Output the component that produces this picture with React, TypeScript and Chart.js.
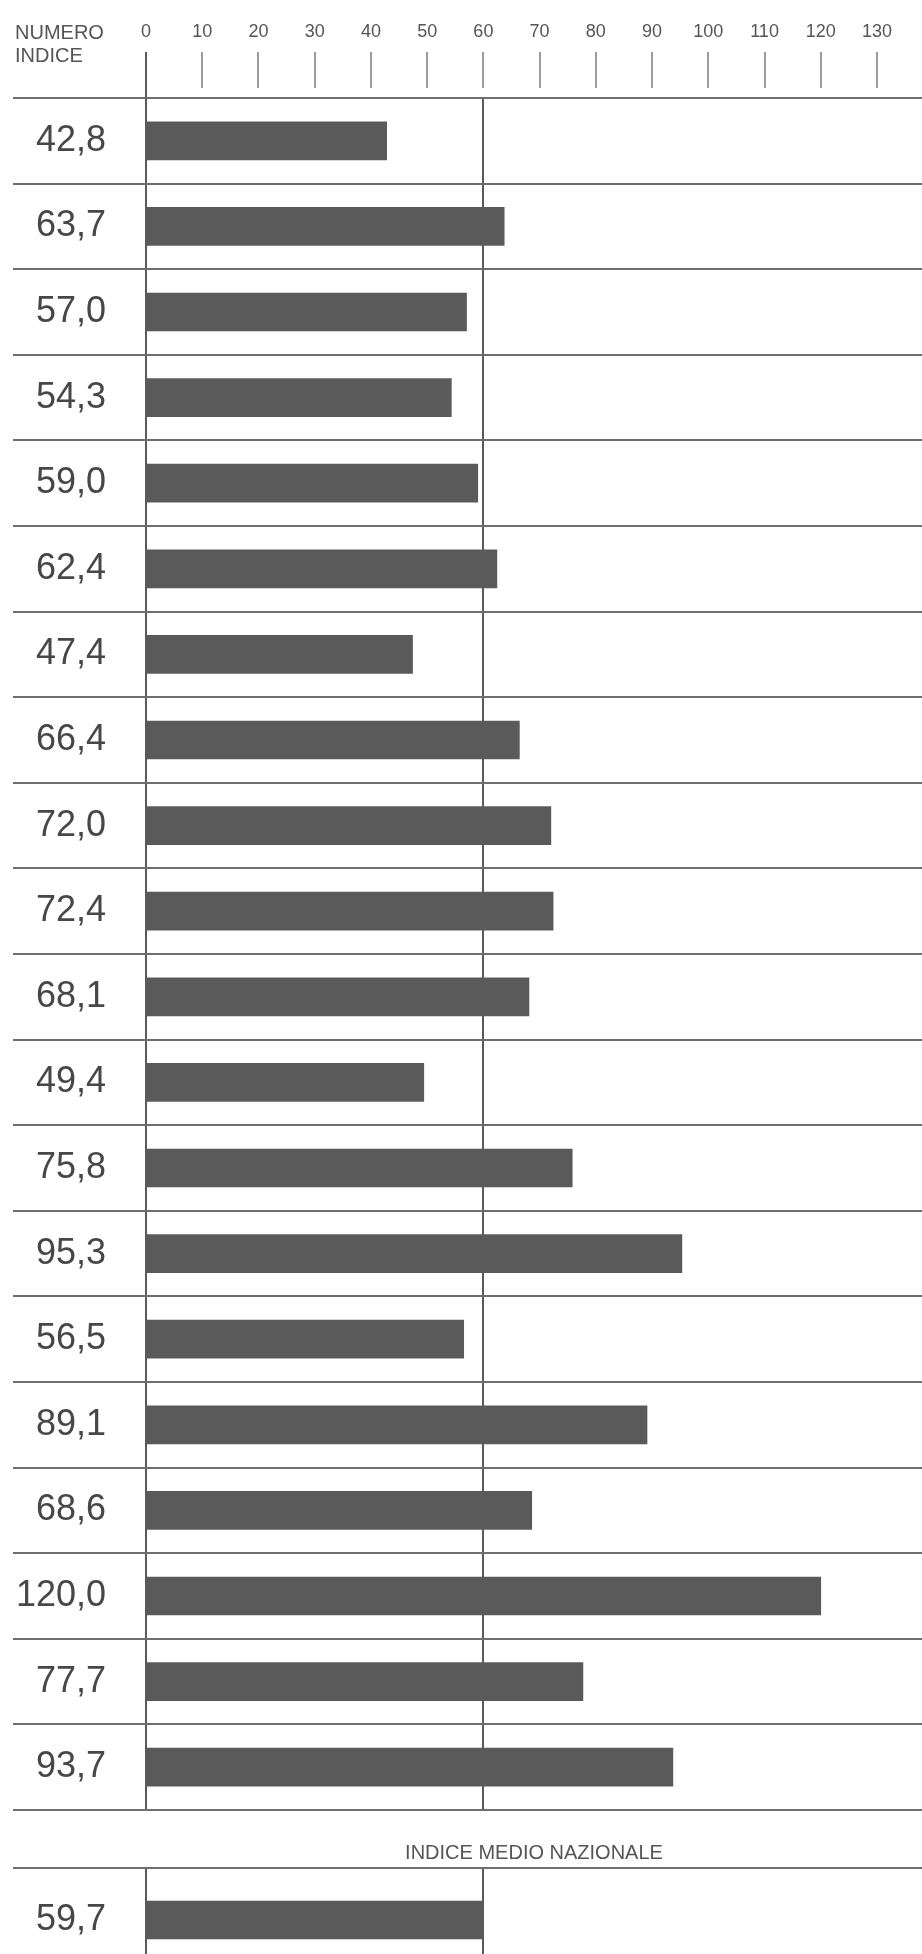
import React, { useEffect, useRef } from "react";
import { Chart, registerables } from "chart.js";

Chart.register(...registerables);

// ---- data ----
const indexValues = [
  42.8, 63.7, 57.0, 54.3, 59.0, 62.4, 47.4, 66.4, 72.0, 72.4,
  68.1, 49.4, 75.8, 95.3, 56.5, 89.1, 68.6, 120.0, 77.7, 93.7,
];
const nationalValues = [59.7];
const axisTicks = [0, 10, 20, 30, 40, 50, 60, 70, 80, 90, 100, 110, 120, 130];
const referenceLines = [0, 60];
const headerLines = ["NUMERO", "INDICE"];
const nationalTitle = "INDICE MEDIO NAZIONALE";

// ---- styles ----
const FONT = "'Liberation Sans', Arial, Helvetica, sans-serif";
const BAR = "#5a5a5a";
const HLINE = "#6e6e6e";
const VLINE = "#5a5a5a";
const TEXT = "#474747";
const AXIS_W = 146;
const PAD_RIGHT = 45;
const W = 922;
const H = 1954;
const MAIN_H = 1812;
const AVG_TOP = 1810;
const AVG_H = 162;

const fmt = (v: number) => v.toFixed(1).replace(".", ",");

const rowLinesPlugin = {
  id: "rowLines",
  afterDraw(chart: any) {
    const { ctx } = chart;
    const y = chart.scales.y;
    const n = chart.data.labels.length;
    ctx.save();
    ctx.strokeStyle = HLINE;
    ctx.lineWidth = 2;
    for (let i = 0; i <= n; i++) {
      const py = Math.round(y.getPixelForValue(i - 0.5));
      ctx.beginPath();
      ctx.moveTo(13, py);
      ctx.lineTo(chart.width, py);
      ctx.stroke();
    }
    ctx.restore();
  },
};

const tickMarksPlugin = {
  id: "tickMarks",
  afterDraw(chart: any) {
    const { ctx, chartArea } = chart;
    const x = chart.scales.x;
    ctx.save();
    x.ticks.forEach((t: any) => {
      const px = Math.round(x.getPixelForValue(t.value));
      ctx.beginPath();
      ctx.strokeStyle = t.value === 0 ? VLINE : "#7a7a7a";
      ctx.lineWidth = t.value === 0 ? 2 : 1.5;
      ctx.moveTo(px, 52);
      ctx.lineTo(px, t.value === 0 ? chartArea.top : 88);
      ctx.stroke();
    });
    ctx.restore();
  },
};

const gridColor = (c: any) =>
  c.tick && referenceLines.includes(c.tick.value) ? VLINE : "transparent";

const yAxis = () => ({
  ticks: { color: TEXT, font: { family: FONT, size: 36 }, padding: 40 },
  grid: { display: false, drawTicks: false },
  border: { display: false },
  afterFit: (s: any) => {
    s.width = AXIS_W;
    s.paddingTop = 0;
    s.paddingBottom = 0;
  },
});

export default function App() {
  const mainRef = useRef<HTMLCanvasElement | null>(null);
  const avgRef = useRef<HTMLCanvasElement | null>(null);

  useEffect(() => {
    const main = new Chart(mainRef.current as HTMLCanvasElement, {
      type: "bar",
      data: {
        labels: indexValues.map(fmt),
        datasets: [
          { data: indexValues, backgroundColor: BAR, borderWidth: 0, barThickness: 38 },
        ],
      },
      options: {
        indexAxis: "y",
        animation: false,
        responsive: false,
        maintainAspectRatio: false,
        layout: { padding: { left: 0, right: PAD_RIGHT, top: 0, bottom: 2 } },
        plugins: { legend: { display: false }, tooltip: { enabled: false } },
        scales: {
          x: {
            type: "linear",
            position: "top",
            min: 0,
            max: 130,
            afterBuildTicks: (s: any) => {
              s.ticks = axisTicks.map((v) => ({ value: v }));
            },
            ticks: {
              color: "#555",
              font: { family: FONT, size: 18 },
              padding: 55,
              maxRotation: 0,
              autoSkip: false,
              callback: (v: any) => String(v),
            },
            grid: { drawTicks: false, color: gridColor, lineWidth: 2 },
            border: { display: false },
            afterFit: (s: any) => {
              s.height = 98;
              s.paddingLeft = 0;
              s.paddingRight = 0;
            },
          },
          y: yAxis() as any,
        },
      } as any,
      plugins: [rowLinesPlugin, tickMarksPlugin],
    });

    const avg = new Chart(avgRef.current as HTMLCanvasElement, {
      type: "bar",
      data: {
        labels: nationalValues.map(fmt),
        datasets: [
          { data: nationalValues, backgroundColor: BAR, borderWidth: 0, barThickness: 38 },
        ],
      },
      options: {
        indexAxis: "y",
        animation: false,
        responsive: false,
        maintainAspectRatio: false,
        layout: { padding: { left: 0, right: PAD_RIGHT, top: 58, bottom: 0 } },
        plugins: { legend: { display: false }, tooltip: { enabled: false } },
        scales: {
          x: {
            type: "linear",
            position: "bottom",
            min: 0,
            max: 130,
            afterBuildTicks: (s: any) => {
              s.ticks = axisTicks.map((v) => ({ value: v }));
            },
            ticks: { display: false },
            grid: { drawTicks: false, color: gridColor, lineWidth: 2 },
            border: { display: false },
            afterFit: (s: any) => {
              s.height = 0;
              s.paddingLeft = 0;
              s.paddingRight = 0;
            },
          },
          y: yAxis() as any,
        },
      } as any,
      plugins: [rowLinesPlugin],
    });

    return () => {
      main.destroy();
      avg.destroy();
    };
  }, []);

  return (
    <div
      style={{
        position: "fixed",
        left: 0,
        top: 0,
        width: W,
        height: H,
        overflow: "hidden",
        background: "#fff",
      }}
    >
      <canvas
        ref={mainRef}
        width={W}
        height={MAIN_H}
        style={{ position: "absolute", left: 0, top: 0, width: W, height: MAIN_H, display: "block" }}
      />
      <canvas
        ref={avgRef}
        width={W}
        height={AVG_H}
        style={{ position: "absolute", left: 0, top: AVG_TOP, width: W, height: AVG_H, display: "block" }}
      />
      <div
        style={{
          position: "absolute",
          left: 15,
          top: 21,
          fontFamily: FONT,
          fontSize: 20,
          lineHeight: "23px",
          color: "#555",
        }}
      >
        {headerLines.map((l) => (
          <div key={l}>{l}</div>
        ))}
      </div>
      <div
        style={{
          position: "absolute",
          left: AXIS_W,
          width: W - AXIS_W,
          top: 1841,
          textAlign: "center",
          fontFamily: FONT,
          fontSize: 20,
          lineHeight: "23px",
          color: "#555",
        }}
      >
        {nationalTitle}
      </div>
    </div>
  );
}
